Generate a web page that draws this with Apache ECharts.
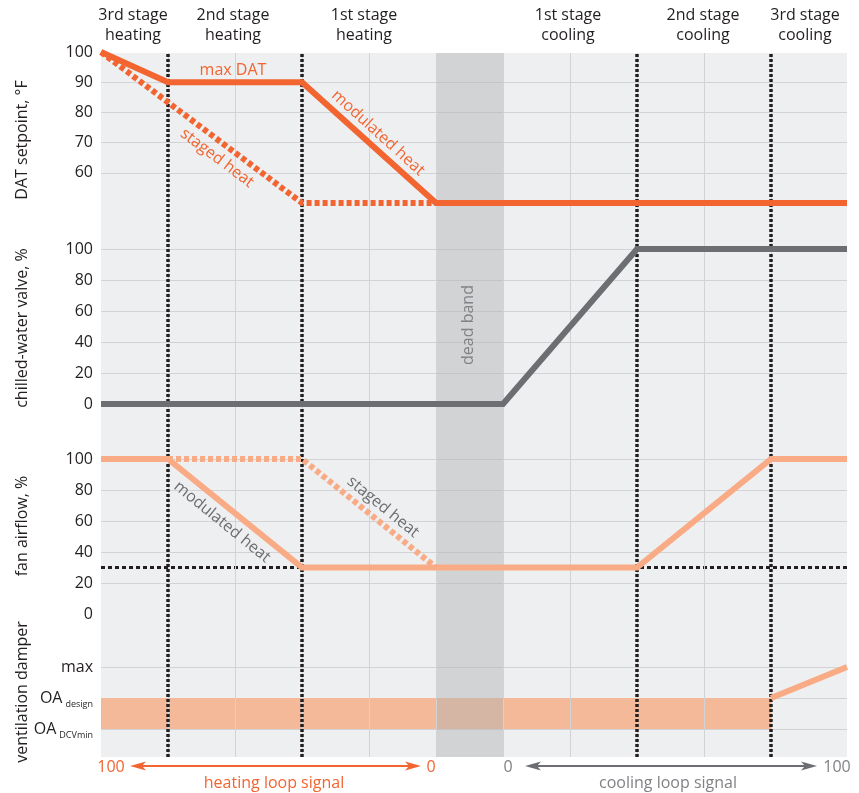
<!DOCTYPE html>
<html>
<head>
<meta charset="utf-8">
<script src="https://cdn.jsdelivr.net/npm/echarts@6/dist/echarts.min.js"></script>
<style>
html,body{margin:0;padding:0;background:#fff;}
#chart{width:859px;height:793px;}
</style>
</head>
<body>
<div id="chart"></div>
<script>
// ---- data (x in stage-position units: 0 = heating loop 100, 5..6 = dead band) ----
var xMax = 11.134;
var stageLines = [1, 3, 8, 10];
var gridX = [1, 2, 3, 4, 5, 6, 7, 8, 9, 10];
var deadBand = [5, 6];

var datModulated = [[0, 100], [1, 90], [3, 90], [5, 50], [xMax, 50]];
var datStaged = [[0, 100], [3, 50], [5, 50]];
var chwValve = [[0, 0], [6, 0], [8, 100], [xMax, 100]];
var fanModulated = [[0, 100], [1, 100], [3, 30], [8, 30], [10, 100], [xMax, 100]];
var fanStaged = [[1, 100], [3, 100], [5, 30]];
var fanMin = [[0, 30], [xMax, 30]];
// ventilation damper levels: 1 = OA DCVmin, 2 = OA design, 3 = max
var damperBandX = [0, 10];
var damperBandY = [1, 2];
var damperLine = [[10, 2], [xMax, 3]];
var damperLabels = {1: 'OA DCVmin', 2: 'OA design', 3: 'max'};

var datTicks = [60, 70, 80, 90, 100];
var pctTicks = [0, 20, 40, 60, 80, 100];

var stageNames = [
  {x: 133, t: '3rd stage\nheating'},
  {x: 233, t: '2nd stage\nheating'},
  {x: 364, t: '1st stage\nheating'},
  {x: 568, t: '1st stage\ncooling'},
  {x: 703, t: '2nd stage\ncooling'},
  {x: 805, t: '3rd stage\ncooling'}
];

var FONT = '"Open Sans", "Noto Sans", sans-serif';
var DARK = '#231f20';
var ORANGE = '#f26531';
var SALMON = '#f9ab85';
var GRAY = '#6d6e71';
var LGRAY = '#808285';
var GRID = '#d1d3d4';

var L = 101, W = 746;
function mkGrid(top, height, extra) {
  return Object.assign({left: L, width: W, top: top, height: height, containLabel: false}, extra || {});
}
function mkX(i) {
  return {type: 'value', gridIndex: i, min: 0, max: xMax, show: false, splitLine: {show: false}};
}
function mkY(i, min, max, interval, fmt, showMax) {
  return {
    type: 'value', gridIndex: i, min: min, max: max, interval: interval,
    axisLine: {show: false}, axisTick: {show: false},
    axisLabel: {color: DARK, fontSize: 16, fontFamily: FONT, margin: 8, formatter: fmt},
    splitLine: {show: true, showMinLine: false, showMaxLine: showMax, lineStyle: {color: GRID, width: 1}}
  };
}

var graphics = [];
stageNames.forEach(function (s) {
  graphics.push({type: 'text', x: s.x, y: 5, style: {text: s.t, fill: DARK, font: '16px ' + FONT, textAlign: 'center', lineHeight: 20}});
});
var yNames = [
  {y: 140, t: 'DAT setpoint, \u00b0F'},
  {y: 328, t: 'chilled-water valve, %'},
  {y: 526, t: 'fan airflow, %'},
  {y: 692, t: 'ventilation damper'}
];
yNames.forEach(function (n) {
  graphics.push({type: 'text', x: 22, y: n.y, rotation: Math.PI / 2,
    style: {text: n.t, fill: DARK, font: '16px ' + FONT, textAlign: 'center', textVerticalAlign: 'middle'}});
});
function rotText(x, y, deg, t, color) {
  graphics.push({type: 'text', x: x, y: y, rotation: -deg * Math.PI / 180, z: 100,
    style: {text: t, fill: color, font: '16px ' + FONT, textAlign: 'center', textVerticalAlign: 'middle'}});
}
rotText(233, 70, 0, 'max DAT', ORANGE);
rotText(378, 133, 42, 'modulated heat', ORANGE);
rotText(217, 158, 37, 'staged heat', ORANGE);
rotText(222, 522, 39, 'modulated heat', GRAY);
rotText(383, 507, 39, 'staged heat', GRAY);
rotText(468, 325, -90, 'dead band', LGRAY);

function arrow(x1, x2, y, color) {
  graphics.push({type: 'line', shape: {x1: x1 + 8, y1: y, x2: x2 - 8, y2: y}, style: {stroke: color, lineWidth: 2}});
  graphics.push({type: 'polygon', shape: {points: [[x1, y], [x1 + 16, y - 4.5], [x1 + 12, y], [x1 + 16, y + 4.5]]}, style: {fill: color}});
  graphics.push({type: 'polygon', shape: {points: [[x2, y], [x2 - 16, y - 4.5], [x2 - 12, y], [x2 - 16, y + 4.5]]}, style: {fill: color}});
}
arrow(130, 421, 766, ORANGE);
arrow(525, 817, 766, GRAY);
function btxt(x, y, t, color) {
  graphics.push({type: 'text', x: x, y: y, style: {text: t, fill: color, font: '16px ' + FONT, textAlign: 'center', textVerticalAlign: 'middle'}});
}
btxt(111, 767, '100', ORANGE);
btxt(431, 767, '0', ORANGE);
btxt(274, 783, 'heating loop signal', ORANGE);
btxt(508, 767, '0', LGRAY);
btxt(837, 767, '100', LGRAY);
btxt(668, 783, 'cooling loop signal', LGRAY);

function lineSeries(i, data, color, width, dash, z) {
  return {type: 'line', xAxisIndex: i, yAxisIndex: i, data: data, symbol: 'none', clip: false, z: z || 5,
    lineStyle: {color: color, width: width, type: dash || 'solid', cap: 'butt', join: 'miter'}, silent: true, animation: false};
}

var option = {
  animation: false,
  backgroundColor: '#ffffff',
  grid: [
    mkGrid(53, 704, {show: true, backgroundColor: '#eeeff1', borderWidth: 0}),
    mkGrid(52, 151),
    mkGrid(249, 155),
    mkGrid(459, 155),
    mkGrid(667, 93)
  ],
  xAxis: [mkX(0), mkX(1), mkX(2), mkX(3), mkX(4)],
  yAxis: [
    {type: 'value', gridIndex: 0, min: 0, max: 1, show: false, splitLine: {show: false}},
    mkY(1, 50, 100, 10, function (v) { return datTicks.indexOf(v) >= 0 ? String(v) : ''; }, false),
    mkY(2, 0, 100, 20, function (v) { return pctTicks.indexOf(v) >= 0 ? String(v) : ''; }, true),
    mkY(3, 0, 100, 20, function (v) { return pctTicks.indexOf(v) >= 0 ? String(v) : ''; }, true),
    mkY(4, 0, 3, 1, function (v) {
      var s = damperLabels[v];
      if (!s) return '';
      if (s === 'max') return s;
      var p = s.split(' ');
      return '{a|' + p[0] + '}{s|' + p[1] + '}';
    }, true)
  ],
  graphic: {elements: graphics},
  series: [
    {
      type: 'line', xAxisIndex: 0, yAxisIndex: 0, data: [[0, 0]], symbol: 'none', lineStyle: {opacity: 0}, z: 1, silent: true,
      markLine: {
        silent: true, symbol: ['none', 'none'], label: {show: false}, animation: false,
        lineStyle: {color: GRID, width: 1, type: 'solid'},
        data: gridX.map(function (x) { return {xAxis: x}; })
      }
    },
    {
      type: 'line', xAxisIndex: 4, yAxisIndex: 4, data: [[0, 0]], symbol: 'none',
      lineStyle: {opacity: 0}, z: 2, silent: true,
      markArea: {
        silent: true, label: {show: false},
        itemStyle: {color: '#f4b998', opacity: 1},
        data: [[{xAxis: damperBandX[0], yAxis: damperBandY[0]}, {xAxis: damperBandX[1], yAxis: damperBandY[1]}]]
      }
    },
    {
      type: 'line', xAxisIndex: 0, yAxisIndex: 0, data: [[0, 0]], symbol: 'none', lineStyle: {opacity: 0}, z: 3, silent: true,
      markArea: {
        silent: true, label: {show: false},
        itemStyle: {color: 'rgba(176,177,180,0.45)'},
        data: [[{xAxis: deadBand[0], yAxis: 0}, {xAxis: deadBand[1], yAxis: 1}]]
      },
      markLine: {
        silent: true, symbol: ['none', 'none'], label: {show: false}, animation: false,
        lineStyle: {color: DARK, width: 3.5, type: [3, 2]},
        data: stageLines.map(function (x) { return {xAxis: x}; })
      }
    },
    lineSeries(3, fanMin, DARK, 3, [4, 3], 4),
    lineSeries(1, datStaged, ORANGE, 6, [5, 3]),
    lineSeries(1, datModulated, ORANGE, 6),
    lineSeries(2, chwValve, GRAY, 6),
    lineSeries(3, fanStaged, SALMON, 6, [5, 3]),
    lineSeries(3, fanModulated, SALMON, 6),
    lineSeries(4, damperLine, SALMON, 6)
  ]
};
option.yAxis[4].axisLabel.rich = {
  a: {fontSize: 16, fontFamily: FONT, color: DARK},
  s: {fontSize: 9, fontFamily: FONT, color: DARK, padding: [12, 0, 0, 3]}
};

var chart = echarts.init(document.getElementById('chart'), null, {renderer: 'canvas'});
chart.setOption(option);
</script>
</body>
</html>
